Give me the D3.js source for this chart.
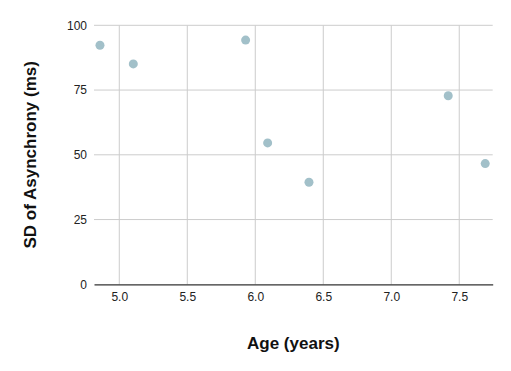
<!DOCTYPE html>
<html>
<head>
<meta charset="utf-8">
<script src="https://cdn.jsdelivr.net/npm/d3@7"></script>
<style>
  body { margin: 0; background: #fff; }
  text { font-family: "Liberation Sans", Arial, sans-serif; }
</style>
</head>
<body>
<svg width="511" height="371"></svg>
<script>
// data
var ages = [4.858, 5.103, 5.929, 6.091, 6.395, 7.419, 7.691];
var sdAsync = [92.3, 85.1, 94.3, 54.6, 39.4, 72.8, 46.6];
var xTicks = [5.0, 5.5, 6.0, 6.5, 7.0, 7.5];
var yTicks = [0, 25, 50, 75, 100];

var svg = d3.select("svg");
var plotL = 94, plotR = 492.7, plotT = 25.3, plotB = 284.3;

var x = d3.scaleLinear().domain([4.814, 7.746]).range([plotL, plotR]);
var y = d3.scaleLinear().domain([0, 100]).range([plotB, plotT]);

// vertical grid
svg.append("g")
    .selectAll("line")
    .data(xTicks)
    .enter().append("line")
    .attr("x1", d => x(d)).attr("x2", d => x(d))
    .attr("y1", plotT).attr("y2", plotB)
    .attr("stroke", "#cccccc").attr("stroke-width", 1);

// horizontal grid
svg.append("g")
    .selectAll("line")
    .data(yTicks.filter(d => d > 0))
    .enter().append("line")
    .attr("x1", plotL).attr("x2", plotR)
    .attr("y1", d => y(d)).attr("y2", d => y(d))
    .attr("stroke", "#cccccc").attr("stroke-width", 1);

// x axis
var xAxis = svg.append("g")
    .attr("transform", "translate(0," + plotB + ")")
    .call(d3.axisBottom(x).tickValues(xTicks).tickFormat(d3.format(".1f")).tickSize(0).tickPadding(8));
xAxis.select(".domain").attr("stroke", "#333333").attr("stroke-width", 1.2);
xAxis.selectAll("text").attr("font-size", 12).attr("fill", "#222");

// y axis
var yAxis = svg.append("g")
    .attr("transform", "translate(" + plotL + ",0)")
    .call(d3.axisLeft(y).tickValues(yTicks).tickSize(0).tickPadding(7));
yAxis.select(".domain").remove();
yAxis.selectAll("text").attr("font-size", 12).attr("fill", "#222");

// points
svg.append("g")
    .selectAll("circle")
    .data(ages)
    .enter().append("circle")
    .attr("cx", d => x(d))
    .attr("cy", (d, i) => y(sdAsync[i]))
    .attr("r", 4.5)
    .attr("fill", "#a2c0c9");

// titles
svg.append("text")
    .attr("x", (plotL + plotR) / 2)
    .attr("y", 349)
    .attr("text-anchor", "middle")
    .attr("font-size", 17)
    .attr("font-weight", "bold")
    .attr("fill", "#111")
    .text("Age (years)");

svg.append("text")
    .attr("transform", "translate(36," + ((plotT + plotB) / 2) + ") rotate(-90)")
    .attr("text-anchor", "middle")
    .attr("font-size", 17)
    .attr("font-weight", "bold")
    .attr("fill", "#111")
    .text("SD of Asynchrony (ms)");
</script>
</body>
</html>
